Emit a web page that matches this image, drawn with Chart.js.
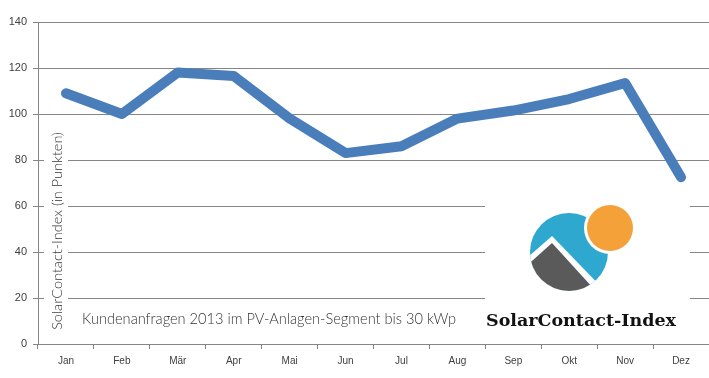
<!DOCTYPE html>
<html><head><meta charset="utf-8">
<script src="https://cdn.jsdelivr.net/npm/chart.js@4/dist/chart.umd.min.js"></script>
<style>html,body{margin:0;padding:0;background:#fff}#wrap{width:709px;height:378px;position:relative}</style>
</head><body><div id="wrap"><canvas id="c" width="709" height="378"></canvas></div>
<script>
const categories = ['Jan','Feb','Mär','Apr','Mai','Jun','Jul','Aug','Sep','Okt','Nov','Dez'];
const indexValues = [109, 100, 118, 116.5, 98, 83, 86, 98, 101.5, 106.5, 113.5, 72.5];
const yTicks = [0, 20, 40, 60, 80, 100, 120, 140];
const yTitle = 'SolarContact-Index (in Punkten)';
const subtitle = 'Kundenanfragen 2013 im PV-Anlagen-Segment bis 30 kWp';
const logoText = 'SolarContact-Index';

const decor = {
  id: 'decor',
  beforeDatasetsDraw(chart) {
    const ctx = chart.ctx;
    ctx.save();
    ctx.fillStyle = '#fff';
    ctx.fillRect(485, 186, 205, 152);
    ctx.fillRect(44, 120, 24, 215);
    ctx.translate(57, 231);
    ctx.rotate(-Math.PI / 2);
    ctx.fillStyle = '#333';
    ctx.font = '300 14.5px Lato';
    ctx.textAlign = 'center';
    ctx.textBaseline = 'middle';
    ctx.fillText(yTitle, 0, 0);
    ctx.restore();

    ctx.save();
    ctx.fillStyle = '#333';
    ctx.font = '300 14.6px Lato';
    ctx.textAlign = 'left';
    ctx.textBaseline = 'alphabetic';
    ctx.fillText(subtitle, 82, 324);
    ctx.fillStyle = '#111';
    ctx.font = 'bold 17.5px "DejaVu Serif"';
    ctx.fillText(logoText, 486, 326);
    const cx = 569, cy = 252, r = 39;
    ctx.beginPath(); ctx.arc(cx, cy, r, 0, Math.PI * 2); ctx.fillStyle = '#2ea8cf'; ctx.fill();
    ctx.save();
    ctx.beginPath(); ctx.arc(cx, cy, r, 0, Math.PI * 2); ctx.clip();
    ctx.beginPath();
    ctx.moveTo(552, 236); ctx.lineTo(520, 264); ctx.lineTo(540, 310); ctx.lineTo(610, 296); ctx.closePath();
    ctx.fillStyle = '#fff'; ctx.fill();
    ctx.beginPath();
    ctx.moveTo(552, 243); ctx.lineTo(522, 270); ctx.lineTo(540, 310); ctx.lineTo(604, 300); ctx.closePath();
    ctx.fillStyle = '#5a5a5a'; ctx.fill();
    ctx.restore();
    ctx.beginPath(); ctx.arc(610, 228, 26, 0, Math.PI * 2); ctx.fillStyle = '#fff'; ctx.fill();
    ctx.beginPath(); ctx.arc(610, 228, 23, 0, Math.PI * 2); ctx.fillStyle = '#f4a13a'; ctx.fill();
    ctx.restore();
  }
};

new Chart(document.getElementById('c'), {
  type: 'line',
  data: {
    labels: categories,
    datasets: [{
      data: indexValues,
      borderColor: '#4a7ebb',
      borderWidth: 10,
      borderCapStyle: 'round',
      borderJoinStyle: 'round',
      pointRadius: 0,
      tension: 0,
      fill: false
    }]
  },
  options: {
    responsive: false,
    animation: false,
    layout: { padding: { top: 22, right: 0, left: 0, bottom: 0 } },
    plugins: { legend: { display: false }, tooltip: { enabled: false } },
    scales: {
      x: {
        offset: true,
        grid: { offset: true, drawOnChartArea: false, drawTicks: true, tickLength: 5, color: '#868686' },
        border: { color: '#868686' },
        ticks: { color: '#404040', font: { family: 'Liberation Sans', size: 10 }, padding: 6, maxRotation: 0 },
        afterFit(s) { s.height = 34; }
      },
      y: {
        min: 0, max: 140,
        afterBuildTicks(s) { s.ticks = yTicks.map(v => ({ value: v })); },
        grid: { color: '#868686', tickLength: 5 },
        border: { color: '#868686' },
        ticks: { color: '#404040', font: { family: 'Liberation Sans', size: 11 }, padding: 6 },
        afterFit(s) { s.width = 38; }
      }
    }
  },
  plugins: [decor]
});
</script></body></html>
